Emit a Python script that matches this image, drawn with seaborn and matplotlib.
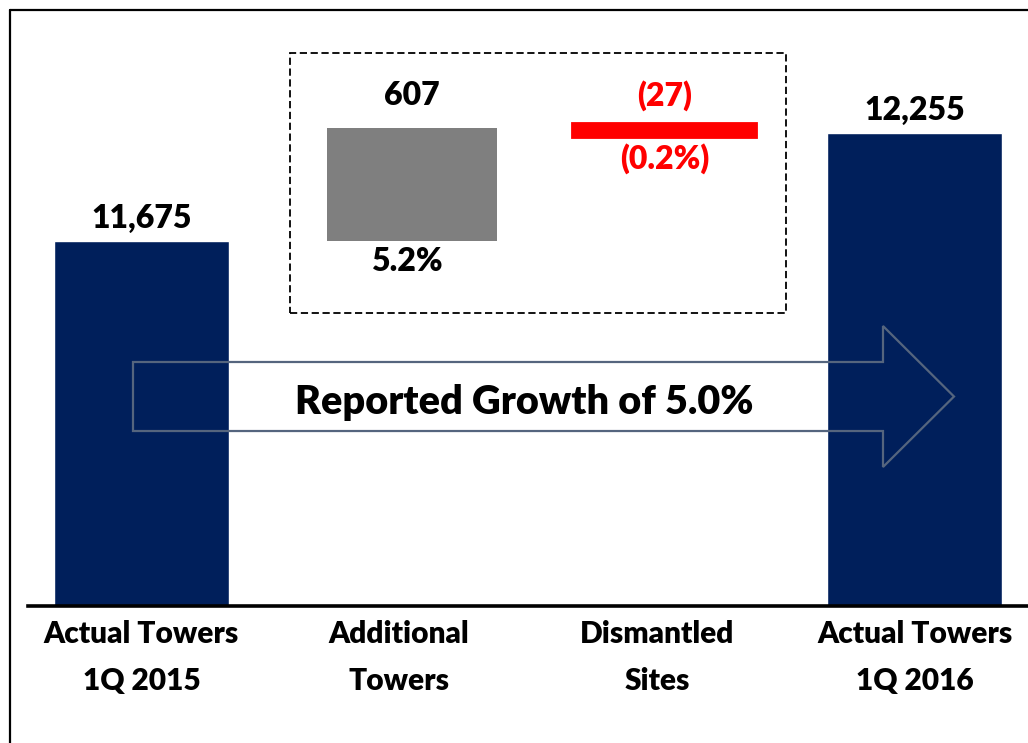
import numpy as np
import pandas as pd
import matplotlib
matplotlib.use("Agg")
import matplotlib.pyplot as plt
from matplotlib.patches import Rectangle, Polygon
from matplotlib.lines import Line2D
import seaborn as sns

# ── data ─────────────────────────────────────────────────────────────────────
categories   = ["Actual Towers\n1Q 2015", "Additional\nTowers",
                "Dismantled\nSites", "Actual Towers\n1Q 2016"]
start_total  = 11675
additions    = 607
dismantled   = -27
end_total    = 12255
add_pct      = "5.2%"
dism_pct     = "(0.2%)"
growth_text  = "Reported Growth of 5.0%"

NAVY = "#001F5B"
GRAY = "#7F7F7F"
RED  = "#FF0000"

sns.set_theme(style="white")
plt.rcParams["font.family"] = ["Lato", "DejaVu Sans"]
plt.rcParams["text.color"] = "black"
plt.rcParams["xtick.color"] = "black"

fig = plt.figure(figsize=(10.28, 7.43), dpi=100, facecolor="white")
ax = fig.add_axes([28 / 1028, 137 / 743, 1000 / 1028, 596 / 743])

# totals drawn with seaborn, empty slots for the two movement categories
totals = pd.DataFrame({"label": [categories[0], categories[3]],
                       "value": [start_total, end_total]})
sns.barplot(data=totals, x="label", y="value", order=categories,
            color=NAVY, saturation=1, width=0.68, ax=ax, zorder=2)

# floating movement bars
ax.bar(1.05, additions, bottom=start_total, width=0.66, color=GRAY,
       linewidth=0, zorder=2)
ax.bar(2.03, -dismantled, bottom=start_total + additions + dismantled,
       width=0.68, color=RED, edgecolor=RED, linewidth=8.5, zorder=2)

ax.set_xlim(-0.44, 3.44)
ax.set_ylim(9715, 12915)

# value labels
lab = dict(ha="center", fontweight="heavy", fontsize=23, textcoords="offset points")
ax.annotate(f"{start_total:,}", (0, start_total), xytext=(0, 6), va="bottom", **lab)
ax.annotate(f"{end_total:,}", (3, end_total), xytext=(0, 6), va="bottom", **lab)
ax.annotate(f"{additions:,}", (1.05, start_total + additions), xytext=(0, 13),
            va="bottom", **lab)
ax.annotate(add_pct, (1.03, start_total), xytext=(0, -4), va="top", **lab)
ax.annotate(f"({abs(dismantled)})", (2.03, start_total + additions), xytext=(0, 12),
            va="bottom", color=RED, **lab)
ax.annotate(dism_pct, (2.03, end_total), xytext=(0, -7), va="top", color=RED, **lab)

# dashed box around the movements
ax.add_patch(Rectangle((0.262, 0.4916), 0.496, 0.4364, transform=ax.transAxes,
                       fill=False, edgecolor="black", linestyle=(0, (4, 2)),
                       linewidth=1.3, zorder=3))

# hollow growth arrow
arrow_pts = [(0.105, 0.2936), (0.855, 0.2936), (0.855, 0.2332), (0.926, 0.3515),
             (0.855, 0.4698), (0.855, 0.4094), (0.105, 0.4094)]
ax.add_patch(Polygon(arrow_pts, closed=True, transform=ax.transAxes, fill=False,
                     edgecolor="#55657E", linewidth=1.6, zorder=4))
ax.text(0.496, 0.342, growth_text, transform=ax.transAxes, ha="center",
        va="center", fontsize=28.5, fontweight="heavy", zorder=5)

# axes styling
for side in ["left", "right", "top"]:
    ax.spines[side].set_visible(False)
ax.spines["bottom"].set_color("black")
ax.spines["bottom"].set_linewidth(2.6)
ax.spines["bottom"].set_zorder(6)
ax.set_yticks([])
ax.set_xlabel("")
ax.set_ylabel("")
ax.tick_params(axis="x", length=0, pad=10)
for t in ax.get_xticklabels():
    t.set_fontweight("heavy")
    t.set_fontsize(21.5)
    t.set_linespacing(1.85)

# outer frame lines
fig.add_artist(Line2D([10 / 1028, 10 / 1028], [0, 733 / 743], color="black",
                      linewidth=1.6, transform=fig.transFigure))
fig.add_artist(Line2D([10 / 1028, 1], [733 / 743, 733 / 743], color="black",
                      linewidth=1.6, transform=fig.transFigure))

fig.savefig("out.png", dpi=100, facecolor="white")
